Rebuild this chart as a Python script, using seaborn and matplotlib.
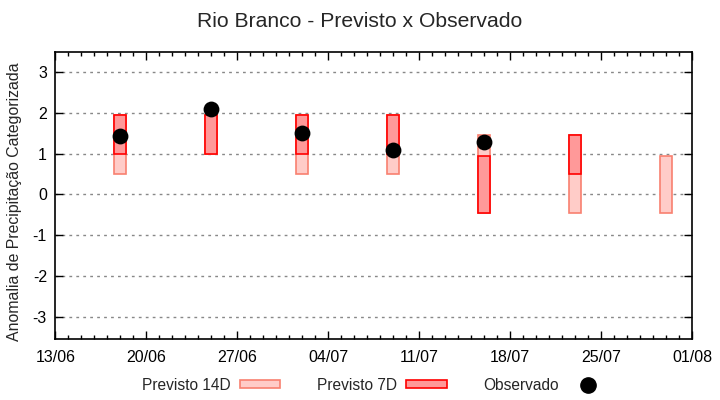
import numpy as np
import pandas as pd
import matplotlib
matplotlib.use("Agg")
import matplotlib.pyplot as plt
import matplotlib.dates as mdates
from matplotlib.patches import Patch
from matplotlib.lines import Line2D
import seaborn as sns

# ---- data ----
dates = ["2023-06-18", "2023-06-25", "2023-07-02", "2023-07-09",
         "2023-07-16", "2023-07-23", "2023-07-30"]
prev14_low = [0.5, 1.0, 0.5, 0.5, -0.45, -0.45, -0.45]
prev14_high = [1.95, 1.95, 1.95, 1.95, 1.45, 1.45, 0.95]
prev7_low = [1.0, 1.0, 1.0, 1.0, -0.45, 0.5, np.nan]
prev7_high = [1.95, 1.95, 1.95, 1.95, 0.95, 1.45, np.nan]
observado = [1.42, 2.1, 1.5, 1.09, 1.28, np.nan, np.nan]
xtick_labels = ["13/06", "20/06", "27/06", "04/07", "11/07", "18/07", "25/07", "01/08"]

sns.set_theme(style="ticks")
plt.rcParams['font.family'] = ['Liberation Sans', 'DejaVu Sans']

df = pd.DataFrame({
    "data": pd.to_datetime(dates),
    "p14_lo": prev14_low, "p14_hi": prev14_high,
    "p7_lo": prev7_low, "p7_hi": prev7_high,
    "obs": observado,
})

fig = plt.figure(figsize=(7.2, 4.0), dpi=100)
ax = fig.add_axes([0.0768, 0.1525, 0.8847, 0.7183])

c14_face, c14_edge = "#ffccc8", "#f88070"
c7_face, c7_edge = "#ff9999", "#ff0000"

ax.bar(df["data"], df["p14_hi"] - df["p14_lo"], bottom=df["p14_lo"], width=0.9,
       color=c14_face, edgecolor=c14_edge, linewidth=1.2, zorder=2)
m7 = df["p7_lo"].notna()
ax.bar(df.loc[m7, "data"], (df["p7_hi"] - df["p7_lo"])[m7], bottom=df.loc[m7, "p7_lo"],
       width=0.9, color=c7_face, edgecolor=c7_edge, linewidth=1.2, zorder=3)
sns.scatterplot(data=df.dropna(subset=["obs"]), x="data", y="obs", ax=ax, color="black",
                s=130, edgecolor="black", linewidth=0, zorder=4, legend=False)

xmin = pd.Timestamp("2023-06-13")
xmax = pd.Timestamp("2023-08-01")
ax.set_xlim(xmin, xmax)
ax.set_ylim(-3.55, 3.5)
ticks = pd.date_range(xmin, xmax, freq="7D")
ax.set_xticks(ticks)
ax.set_xticklabels(xtick_labels, family=['Liberation Sans Narrow', 'Liberation Sans', 'DejaVu Sans'])
ax.xaxis.set_minor_locator(mdates.DayLocator())
ax.set_yticks(range(-3, 4))
ax.set_yticklabels([str(v) for v in range(-3, 4)])

ax.tick_params(axis="both", which="both", direction="in", top=True, right=True,
               labelsize=11.5, colors="black")
ax.tick_params(axis="both", which="major", length=6, width=1)
ax.tick_params(axis="x", which="major", pad=8)
ax.tick_params(axis="y", which="major", pad=6)
ax.tick_params(axis="x", which="minor", length=3, width=1)
ax.grid(axis="y", linestyle=(0, (2, 3)), color="#888888", linewidth=1, zorder=0)
for s in ax.spines.values():
    s.set_color("black")
    s.set_linewidth(1.2)

ax.set_xlabel("")
ax.set_ylabel("Anomalia de Precipitação Categorizada", fontsize=11.4)
ax.yaxis.set_label_coords(-0.052, 0.477)
fig.suptitle("Rio Branco - Previsto x Observado", fontsize=15.2, y=0.97)

handles = [
    Patch(facecolor=c14_face, edgecolor=c14_edge, linewidth=1.2),
    Patch(facecolor=c7_face, edgecolor=c7_edge, linewidth=1.2),
    Line2D([], [], marker="o", color="black", linestyle="None", markersize=11),
]
labels = ["Previsto 14D", "Previsto 7D", "Observado"]
leg = fig.legend(handles, labels, loc="center", bbox_to_anchor=(0.521, 0.037), ncol=3,
                 frameon=False, markerfirst=False, fontsize=11.2, handlelength=2.6,
                 handleheight=0.4, columnspacing=2.35, handletextpad=0.6)

fig.savefig("out.png", dpi=100)
